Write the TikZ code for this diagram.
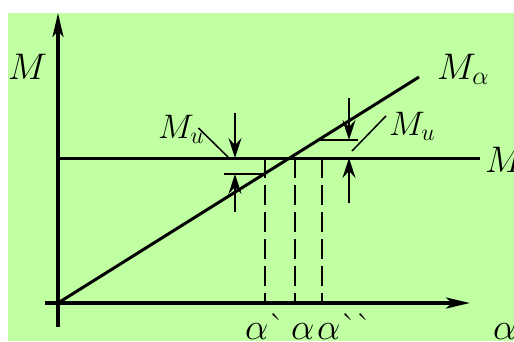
\documentclass[tikz,border=0pt]{standalone}
\usepackage{fix-cm}
\usepackage{tikz}
\usetikzlibrary{arrows.meta}
\definecolor{paperg}{RGB}{192,255,162}

\begin{document}
\begin{tikzpicture}[x=1pt, y=-1pt, font=\fontsize{37}{44}\selectfont,
  axis/.style={line width=3.5pt, -{Stealth[length=24pt,width=11pt,inset=6pt]}},
  curve/.style={line width=3pt},
  limit/.style={line width=2.5pt},
  proj/.style={line width=2.5pt, dash pattern=on 20pt off 7pt},
  tol/.style={line width=2pt, -{Stealth[length=20pt,width=13pt,inset=7pt]}},
  leader/.style={line width=1.5pt},
  lab/.style={inner sep=0pt, anchor=base west},
  small lab/.style={lab, font=\fontsize{34}{40}\selectfont}]
\useasboundingbox (0,0) rectangle (514,341);
\fill[paperg] (8,13) rectangle (514,341);
% axes
\coordinate (O) at (58,303);
\coordinate (ybot) at (58,327);
\coordinate (ytop) at (58,13);
\coordinate (xleft) at (45,303);
\coordinate (xright) at (470,303);
\draw[axis] (ybot) -- (ytop);
\draw[axis] (xleft) -- (xright);
% characteristic and level M
\coordinate (Mend) at (419,77);
\coordinate (Mlevel0) at (58,158);
\coordinate (Mlevel1) at (480,158);
\draw[curve] (O) -- (Mend);
\draw[curve] (Mlevel0) -- (Mlevel1);
% band limits
\coordinate (lowA) at (224,174);
\coordinate (lowB) at (265,174);
\coordinate (upA) at (318,140);
\coordinate (upB) at (358,140);
\draw[limit] (lowA) -- (lowB);
\draw[limit] (upA) -- (upB);
% projections
\foreach \px/\nm in {265/a1,295/a0,322/a2} {
  \coordinate (\nm top) at (\px,158);
  \coordinate (\nm bot) at (\px,303);
  \draw[proj] (\nm top) -- (\nm bot);
}
% tolerance arrows
\coordinate (tolL1) at (235,113);
\coordinate (tolL2) at (235,158);
\coordinate (tolL3) at (235,212);
\coordinate (tolL4) at (235,174);
\coordinate (tolR1) at (349,98);
\coordinate (tolR2) at (349,140);
\coordinate (tolR3) at (349,203);
\coordinate (tolR4) at (349,158);
\draw[tol] (tolL1) -- (tolL2);
\draw[tol] (tolL3) -- (tolL4);
\draw[tol] (tolR1) -- (tolR2);
\draw[tol] (tolR3) -- (tolR4);
% labels
\node[lab] (labM) at (8,79) {$M$};
\node[lab] (labMa) at (437,79) {$M_\alpha$};
\node[lab] (labMr) at (485,172) {$M$};
\node[small lab] (labMuL) at (158,138) {$M_u$};
\node[small lab] (labMuR) at (389,135) {$M_u$};
\node[lab] (laba1) at (245,339) {$\alpha$\`{}};
\node[lab] (laba0) at (291,339) {$\alpha$};
\node[lab] (laba2) at (317,339) {$\alpha$\`{}\kern-2pt\`{}};
\node[lab] (labax) at (493,339) {$\alpha$};
% leaders
\coordinate (leadL) at (228,157);
\coordinate (leadR) at (352,151);
\draw[leader] (labMuL.east) ++(-6,-1) -- (leadL);
\draw[leader] (labMuR.west) ++(-3,-10) -- (leadR);
\end{tikzpicture}
\end{document}
